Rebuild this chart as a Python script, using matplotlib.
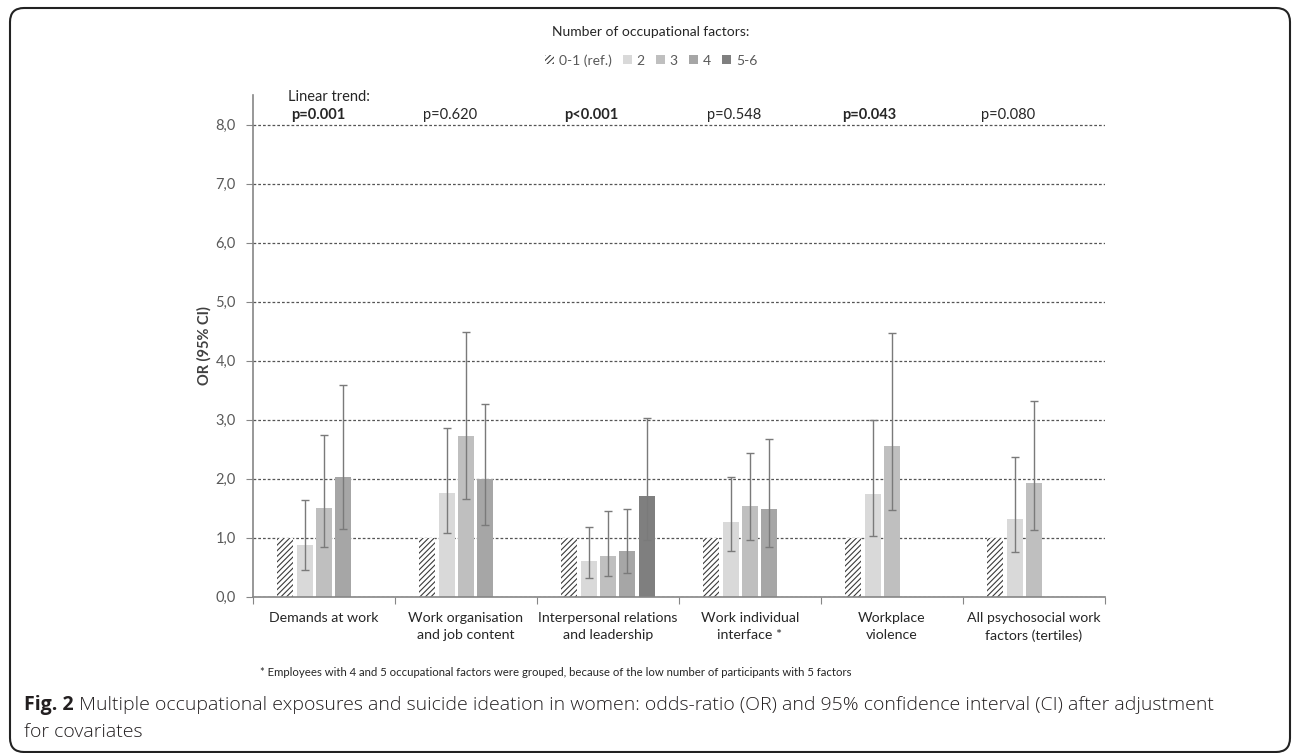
import numpy as np
import matplotlib
matplotlib.use('Agg')
import matplotlib.pyplot as plt
from matplotlib.patches import Patch, FancyBboxPatch
from matplotlib.transforms import IdentityTransform

plt.rcParams['font.family'] = ['Lato', 'DejaVu Sans']
plt.rcParams['hatch.linewidth'] = 0.8

# ---- data ----
categories = ['Demands at work', 'Work organisation\nand job content',
              'Interpersonal relations\nand leadership', 'Work individual\ninterface *',
              'Workplace\nviolence', 'All psychosocial work\nfactors (tertiles)']
levels = ['0-1 (ref.)', '2', '3', '4', '5-6']
nan = np.nan

or_ref = [1.0, 1.0, 1.0, 1.0, 1.0, 1.0]
or_2 = [0.87, 1.76, 0.60, 1.26, 1.74, 1.32]
lo_2 = [0.45, 1.08, 0.31, 0.77, 1.03, 0.75]
hi_2 = [1.63, 2.85, 1.18, 2.03, 3.00, 2.36]
or_3 = [1.51, 2.72, 0.69, 1.53, 2.56, 1.93]
lo_3 = [0.84, 1.65, 0.35, 0.96, 1.47, 1.13]
hi_3 = [2.74, 4.49, 1.45, 2.44, 4.46, 3.31]
or_4 = [2.02, 2.00, 0.78, 1.49, nan, nan]
lo_4 = [1.15, 1.21, 0.41, 0.84, nan, nan]
hi_4 = [3.58, 3.27, 1.48, 2.67, nan, nan]
or_5 = [nan, nan, 1.71, nan, nan, nan]
lo_5 = [nan, nan, 0.96, nan, nan, nan]
hi_5 = [nan, nan, 3.02, nan, nan, nan]

p_values = ['p=0.001', 'p=0.620', 'p<0.001', 'p=0.548', 'p=0.043', 'p=0.080']
p_bold = [True, False, True, False, True, False]

footnote = '* Employees with 4 and 5 occupational factors were grouped, because of the low number of participants with 5 factors'
caption_bold = 'Fig. 2'
caption_1 = ' Multiple occupational exposures and suicide ideation in women: odds-ratio (OR) and 95% confidence interval (CI) after adjustment'
caption_2 = 'for covariates'

# ---- styling ----
bar_colors = ['white', '#d9d9d9', '#bfbfbf', '#a6a6a6', '#7f7f7f']
slot = 0.136
bw = 0.113
p_dx = [-0.04, -0.11, -0.12, -0.11, -0.16, -0.18]
cap_font = ['Open Sans', 'DejaVu Sans']

fig = plt.figure(figsize=(12.92, 7.53), dpi=100)
ax = fig.add_axes([253 / 1292, 1 - 596.7 / 753, 852 / 1292, 501.7 / 753])

x = np.arange(len(categories)) + 0.5
series = [(or_ref, None, None), (or_2, lo_2, hi_2), (or_3, lo_3, hi_3),
          (or_4, lo_4, hi_4), (or_5, lo_5, hi_5)]

for k, (vals, lo, hi) in enumerate(series):
    vals = np.array(vals, dtype=float)
    m = ~np.isnan(vals)
    xs = x[m] + (k - 2) * slot
    if k == 0:
        ax.bar(xs, vals[m], bw, color='white', edgecolor='#3a3a3a', hatch='//////',
               linewidth=0, zorder=2)
    else:
        ax.bar(xs, vals[m], bw, color=bar_colors[k], linewidth=0, zorder=2)
        lo = np.array(lo)[m]
        hi = np.array(hi)[m]
        ax.errorbar(xs, vals[m], yerr=[vals[m] - lo, hi - vals[m]], fmt='none',
                    ecolor='#7a7a7a', elinewidth=1, capsize=2.8, capthick=1, zorder=3)

ax.set_xlim(0, len(categories))
ax.set_ylim(0, 8.5)
ax.set_yticks(np.arange(0, 9))
ax.set_yticklabels([f'{v:.1f}'.replace('.', ',') for v in range(0, 9)],
                   fontsize=10.5, color='#595959')
ax.set_xticks(np.arange(0, len(categories) + 1))
ax.set_xticklabels([])
ax.set_xticks(x, minor=True)
ax.set_xticklabels(categories, minor=True, fontsize=10.2, color='#262626')
for t in ax.get_xticklabels(minor=True):
    t.set_linespacing(1.55)
ax.tick_params(axis='x', which='minor', length=0, pad=11)
ax.tick_params(axis='x', which='major', length=5, color='#868686', direction='out')
ax.tick_params(axis='y', length=5, color='#868686', pad=7.5)

for s in ['top', 'right']:
    ax.spines[s].set_visible(False)
for s in ['left', 'bottom']:
    ax.spines[s].set_color('#868686')
    ax.spines[s].set_linewidth(1.2)

ax.yaxis.grid(True, linestyle=(0, (2.2, 1.6)), color='#555555', linewidth=0.9)
ax.set_axisbelow(True)

ax.set_ylabel('OR (95% CI)', fontsize=10.5, fontweight='bold', color='#404040', labelpad=3)

ax.text(0.246, 8.47, 'Linear trend:', fontsize=10.5, color='#262626', ha='left', va='center')
for i, (p, b) in enumerate(zip(p_values, p_bold)):
    ax.text(x[i] + p_dx[i], 8.16, p, fontsize=10.5, color='#262626', ha='center', va='center',
            fontweight='bold' if b else 'normal')

handles = [Patch(facecolor='white', edgecolor='#3a3a3a', hatch='//////', linewidth=0)]
handles += [Patch(facecolor=c, linewidth=0) for c in bar_colors[1:]]
leg = fig.legend(handles, levels, loc='upper center', bbox_to_anchor=(651 / 1292, 1 - 13 / 753),
                 ncol=5, frameon=False, title='Number of occupational factors:',
                 fontsize=10, title_fontsize=10, handlelength=0.65, handleheight=0.65,
                 handletextpad=0.35, columnspacing=0.8, labelspacing=0.3)
for t in leg.get_texts():
    t.set_color('#595959')
leg.get_title().set_color('#262626')
leg._legend_box.sep = 12

fig.text(260 / 1292, 1 - 673 / 753, footnote, fontsize=8.2, color='#262626', ha='left', va='center')

cap = fig.text(24 / 1292, 1 - 705 / 753, caption_bold, fontsize=14, fontweight='bold',
               family=cap_font, color='#231f20', ha='left', va='center')
ax.annotate(caption_1, xy=(1, 0.5), xycoords=cap, ha='left', va='center', fontsize=14,
            fontweight='light', family=cap_font, color='#231f20', annotation_clip=False)
fig.text(24 / 1292, 1 - 732 / 753, caption_2, fontsize=14, fontweight='light',
         family=cap_font, color='#231f20', ha='left', va='center')

frame = FancyBboxPatch((10, 1), 1280, 744, boxstyle='round,pad=0,rounding_size=14',
                       transform=IdentityTransform(), facecolor='none', edgecolor='#222222',
                       linewidth=1.5)
fig.patches.append(frame)

fig.savefig('out.png', dpi=100)
